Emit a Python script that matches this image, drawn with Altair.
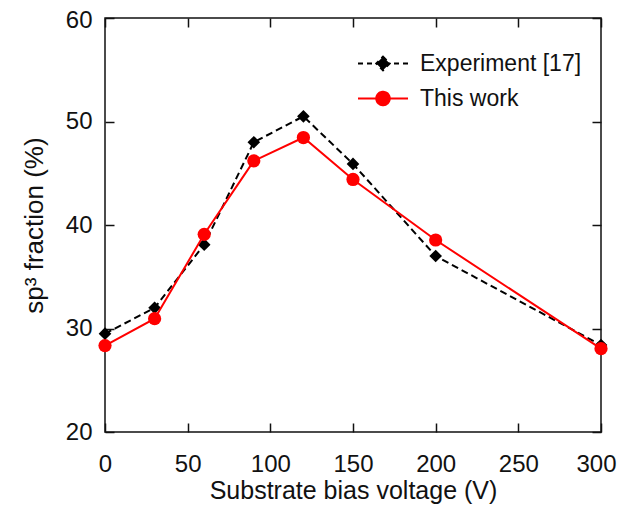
import altair as alt
import pandas as pd

# ---- data ----
voltage = [0, 30, 60, 90, 120, 150, 200, 300]
experiment = [29.5, 32.0, 38.1, 48.0, 50.5, 45.9, 37.0, 28.4]
this_work = [28.35, 30.95, 39.1, 46.2, 48.45, 44.4, 38.55, 28.05]
series_names = ["Experiment [17]", "This work"]
series_colors = ["#000000", "#ff0000"]
x_ticks = [0, 50, 100, 150, 200, 250, 300]
y_ticks = [20, 30, 40, 50, 60]

df = pd.DataFrame({
    "voltage": voltage * 2,
    "fraction": experiment + this_work,
    "series": [series_names[0]] * len(voltage) + [series_names[1]] * len(voltage),
})

FONT = "Liberation Sans"
xscale = alt.Scale(domain=[0, 300], nice=False, zero=False)
yscale = alt.Scale(domain=[20, 60], nice=False, zero=False)

common_axis = dict(
    grid=False, domain=False, offset=-9, tickSize=9, tickColor="#111111", tickWidth=1.5,
    labelFont=FONT, labelFontSize=24, labelColor="#111111", labelFlush=False,
    labelOverlap=False, titleFont=FONT, titleFontSize=26, titleFontWeight="normal",
    titleColor="#111111",
)

x_axis_opts = dict(common_axis)
x_axis_opts["titleFontSize"] = 25

x_bottom = alt.X("voltage:Q", scale=xscale, axis=alt.Axis(
    orient="bottom", values=x_ticks, title="Substrate bias voltage (V)",
    labelBaseline="alphabetic", labelPadding=39, titlePadding=2,
    labelOffset={"condition": {"test": "datum.value === 300", "value": -5}, "value": 0},
    **x_axis_opts))
y_left = alt.Y("fraction:Q", scale=yscale, axis=alt.Axis(
    orient="left", values=y_ticks, title="sp³ fraction (%)",
    labelPadding=13, titlePadding=18,
    labelOffset={"condition": {"test": "datum.value === 60", "value": 2}, "value": 0},
    **common_axis))

x_none = alt.X("voltage:Q", scale=xscale, axis=None)
y_none = alt.Y("fraction:Q", scale=yscale, axis=None)

x_top = alt.X("voltage:Q", scale=xscale, axis=alt.Axis(
    orient="top", values=x_ticks, labels=False, title=None, **common_axis))
y_right = alt.Y("fraction:Q", scale=yscale, axis=alt.Axis(
    orient="right", values=y_ticks, labels=False, title=None, **common_axis))

exp_line = alt.Chart(df).transform_filter(
    alt.datum.series == series_names[0]
).mark_line(color=series_colors[0], strokeDash=[7, 4], strokeWidth=2).encode(x=x_bottom, y=y_left)

exp_pts = alt.Chart(df).transform_filter(
    alt.datum.series == series_names[0]
).mark_point(filled=True, shape="diamond", size=160, color=series_colors[0], opacity=1).encode(x=x_none, y=y_none)

tw_line = alt.Chart(df).transform_filter(
    alt.datum.series == series_names[1]
).mark_line(color=series_colors[1], strokeWidth=2).encode(x=x_none, y=y_none)

tw_pts = alt.Chart(df).transform_filter(
    alt.datum.series == series_names[1]
).mark_circle(size=175, color=series_colors[1], opacity=1).encode(x=x_none, y=y_none)

# legend symbols: a line with a marker in the middle
path_exp = "M-1,0L1,0M0,-0.27L0.27,0L0,0.27L-0.27,0Z"
path_tw = "M-1,0L1,0M0.27,0A0.27,0.27,0,1,1,-0.27,0A0.27,0.27,0,1,1,0.27,0Z"

leg = alt.Legend(
    title=None, orient="none", legendX=252, legendY=28, clipHeight=35,
    labelFont=FONT, labelFontSize=23, labelColor="#111111", labelOffset=11,
    labelLimit=400, symbolSize=2500, symbolStrokeWidth=2, rowPadding=0,
)

legend_layer = alt.Chart(df).transform_filter("false").mark_point(
    filled=True, opacity=1, size=2500, strokeWidth=2
).encode(
    x=x_top, y=y_right,
    color=alt.Color("series:N", scale=alt.Scale(domain=series_names, range=series_colors), legend=leg),
    stroke=alt.Stroke("series:N", scale=alt.Scale(domain=series_names, range=series_colors), legend=leg),
    shape=alt.Shape("series:N", scale=alt.Scale(domain=series_names, range=[path_exp, path_tw]), legend=leg),
    strokeDash=alt.StrokeDash("series:N", scale=alt.Scale(domain=series_names, range=[[5, 4], [1, 0]]), legend=leg),
)

chart = alt.layer(exp_line, exp_pts, tw_line, tw_pts, legend_layer).resolve_axis(
    x="independent", y="independent"
).properties(
    width=496, height=414,
    padding={"left": 97, "top": 10, "right": 16, "bottom": 78},
    autosize=alt.AutoSizeParams(type="none"),
    background="white",
).configure_view(stroke="#111111", strokeWidth=1.5)

chart.save("out.html", embed_options={"renderer": "svg", "actions": False})
